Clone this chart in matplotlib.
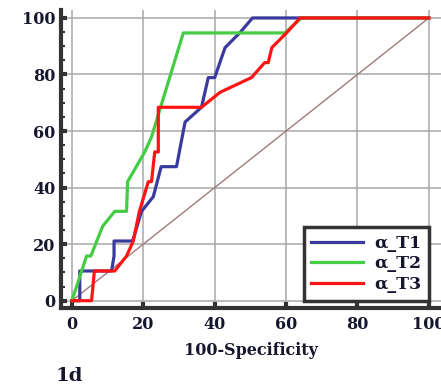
import matplotlib
matplotlib.use('Agg')
import matplotlib.pyplot as plt
from matplotlib.ticker import MultipleLocator

# ROC curves
t1_x = [0, 2.2, 2.2, 11.1, 11.8, 11.8, 17.0, 19.5, 22.8, 25.0, 29.3, 31.7, 36.3, 38.2, 40.0, 42.9, 47.0, 50.6, 100]
t1_y = [0, 0, 10.5, 10.5, 15.8, 21.1, 21.1, 31.6, 36.8, 47.4, 47.4, 63.2, 68.4, 78.9, 78.9, 89.5, 94.7, 100, 100]

t2_x = [0, 4.1, 5.3, 8.6, 12.0, 15.3, 15.6, 20.4, 22.3, 31.2, 59.7, 64.3, 100]
t2_y = [0, 15.8, 15.8, 26.3, 31.6, 31.6, 42.1, 52.6, 57.9, 94.7, 94.7, 100, 100]

t3_x = [0, 5.5, 6.3, 12.0, 15.3, 17.2, 18.9, 21.4, 22.3, 23.2, 24.2, 24.2, 36.3, 41.5, 50.3, 54.0, 55.0, 56.0, 60.1, 63.9, 100]
t3_y = [0, 0, 10.5, 10.5, 15.8, 21.1, 31.6, 42.1, 42.1, 52.6, 52.6, 68.4, 68.4, 73.7, 78.9, 84.2, 84.2, 89.5, 94.7, 100, 100]

labels = ['α_T1', 'α_T2', 'α_T3']
colors = ['#3a3a9e', '#44cc44', '#ff1414']
xticks = [0, 20, 40, 60, 80, 100]
yticks = [0, 20, 40, 60, 80, 100]

plt.rcParams['font.family'] = ['DejaVu Serif']
plt.rcParams['font.weight'] = 'bold'
txt_col = '#16162e'

fig = plt.figure(figsize=(4.41, 3.86), dpi=100)
ax = fig.add_axes([0.138, 0.202, 0.862, 0.772])

ax.plot([0, 100], [0, 100], color='#a07a7a', lw=1.0, zorder=2)
ax.plot(t1_x, t1_y, color=colors[0], lw=2.3, label=labels[0], zorder=3)
ax.plot(t2_x, t2_y, color=colors[1], lw=2.3, label=labels[1], zorder=3)
ax.plot(t3_x, t3_y, color=colors[2], lw=2.3, label=labels[2], zorder=4)

ax.set_xlim(-3.1, 103.4)
ax.set_ylim(-2.6, 102.8)
ax.set_xticks(xticks)
ax.set_yticks(yticks)
ax.yaxis.set_minor_locator(MultipleLocator(5))
ax.grid(True, which='major', color='#a8a8a8', lw=1.1, zorder=1)

for s in ['top', 'right']:
    ax.spines[s].set_visible(False)
for s in ['left', 'bottom']:
    ax.spines[s].set_color('#333333')
    ax.spines[s].set_linewidth(3)

ax.tick_params(which='major', direction='in', length=4, width=3, color='#333333',
               labelsize=11.5, labelcolor=txt_col)
ax.tick_params(axis='x', pad=6)
ax.tick_params(axis='y', pad=4)
ax.tick_params(which='minor', direction='in', length=3, width=1.5, color='#333333')
for lab in ax.get_xticklabels() + ax.get_yticklabels():
    lab.set_fontweight('bold')

ax.set_xlabel('100-Specificity', fontsize=11.5, fontweight='bold', labelpad=6, color=txt_col)

leg = ax.legend(loc='lower right', bbox_to_anchor=(0.968, 0.0245), borderaxespad=0,
                prop={'weight': 'bold', 'size': 12.5},
                frameon=True, fancybox=False, handlelength=3.0, handletextpad=0.6,
                labelspacing=0.2, borderpad=0.45, framealpha=1)
leg.get_frame().set_edgecolor('#333333')
leg.get_frame().set_linewidth(2.5)
for t in leg.get_texts():
    t.set_color(txt_col)

fig.text(0.125, 0.013, '1d', fontsize=14, fontweight='bold', color=txt_col, va='baseline')

fig.savefig('out.png', dpi=100)
